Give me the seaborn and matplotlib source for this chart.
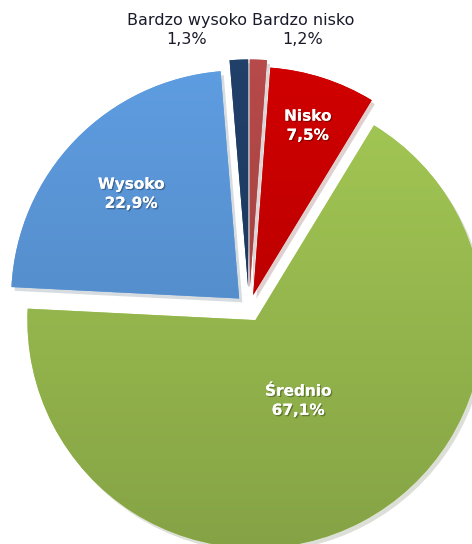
import numpy as np
import matplotlib.pyplot as plt
import matplotlib.colors as mcolors
import matplotlib.patheffects as pe
import seaborn as sns

# data, clockwise from 12 o'clock
labels = ["Bardzo nisko", "Nisko", "Średnio", "Wysoko", "Bardzo wysoko"]
shares = [1.2, 7.5, 67.1, 22.9, 1.3]
pct_text = ["1,2%", "7,5%", "67,1%", "22,9%", "1,3%"]
colors = ["#b84a4a", "#d20000", "#a6cb56", "#5f9ee3", "#21406a"]
explode = [0.09, 0.06, 0.06, 0.06, 0.09]
inside = [False, True, True, True, False]
label_dist = [1.22, 0.84, 0.46, 0.72, 1.22]

sns.set_theme(style="white")
plt.rcParams['font.family'] = ['DejaVu Sans']

fig = plt.figure(figsize=(4.72, 5.44), dpi=100)
ax = fig.add_axes([0, 0, 1, 1])

wedges, _ = ax.pie(shares, explode=explode, colors=colors, startangle=90,
                   counterclock=False, radius=1.0,
                   wedgeprops=dict(linewidth=0),
                   shadow=dict(ox=0.01, oy=-0.012, shade=0.6, alpha=0.18))

# vertical shading over the whole pie height, darker at the bottom (excel look)
for w, c in zip(wedges, colors):
    base = np.array(mcolors.to_rgb(c))
    top = base
    bot = base * 0.8
    t = np.linspace(0, 1, 64)[:, None]
    grad = (bot[None, :] * (1 - t) + top[None, :] * t)[:, None, :]
    im = ax.imshow(grad, extent=[-1.15, 1.15, -1.1, 1.15], origin='lower',
                   aspect='auto', zorder=w.get_zorder() + 0.1, interpolation='bilinear')
    im.set_clip_path(w)

for w, lab, pct, ins, d in zip(wedges, labels, pct_text, inside, label_dist):
    mid = np.deg2rad((w.theta1 + w.theta2) / 2)
    x, y = d * np.cos(mid), d * np.sin(mid)
    txt = f"{lab}\n{pct}"
    if ins:
        ax.text(x, y, txt, ha='center', va='center', color='white', fontsize=11,
                fontweight='bold', linespacing=1.35, zorder=10,
                path_effects=[pe.withSimplePatchShadow(offset=(1, -1), shadow_rgbFace='black', alpha=0.3),
                              pe.Normal()])
    else:
        ha = 'left' if x > 0 else 'right'
        x = 0.012 if x > 0 else -0.01
        ax.text(x, y, txt, ha=ha, va='center', multialignment='center',
                color='#1a1a2a', fontsize=11.5, linespacing=1.4, zorder=10)

ax.set_aspect('equal')
ax.set_xlim(-1.092, 0.978)
ax.set_ylim(-1.035, 1.351)
ax.axis('off')

fig.savefig('out.png', dpi=100)
